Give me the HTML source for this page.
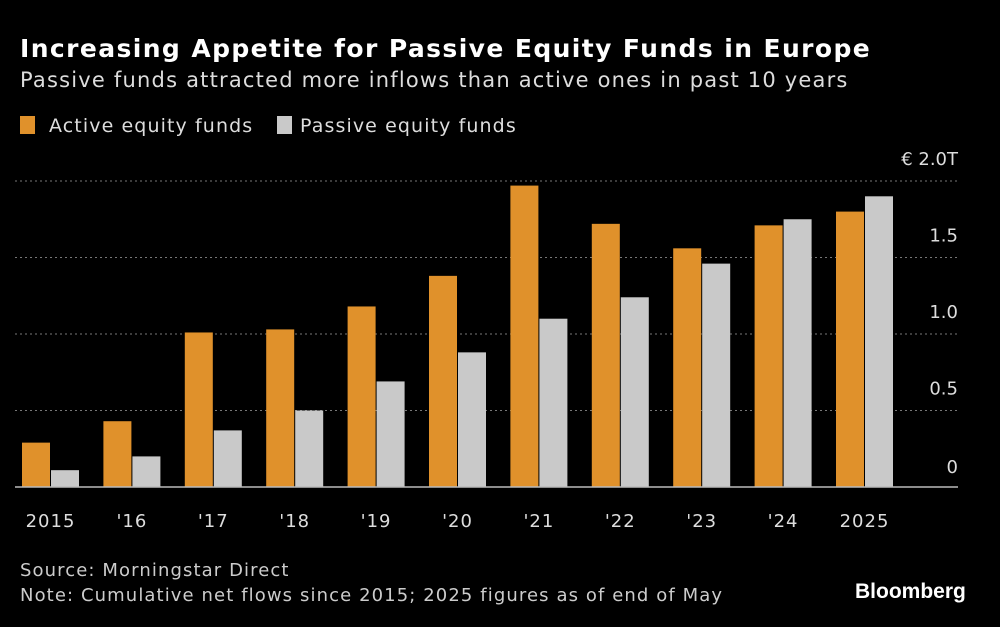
<!DOCTYPE html>
<html><head><meta charset="utf-8"><style>
body{margin:0;background:#000;width:1000px;height:627px;overflow:hidden;font-family:"DejaVu Sans","Liberation Sans",sans-serif;color:#fff}
.t{position:absolute;white-space:nowrap}
</style></head><body>
<div class="t" style="left:20px;top:34px;font-size:25px;font-weight:bold;letter-spacing:1.4px">Increasing Appetite for Passive Equity Funds in Europe</div>
<div class="t" style="left:20px;top:68px;font-size:21px;color:#ddd;letter-spacing:1.2px">Passive funds attracted more inflows than active ones in past 10 years</div>
<div class="t" style="left:20px;top:115px;font-size:19px;color:#ddd;letter-spacing:1.1px"><span style="display:inline-block;width:15px;height:18px;background:#e0912b;vertical-align:-2px;margin-right:14px"></span>Active equity funds</div>
<div class="t" style="left:277px;top:115px;font-size:19px;color:#ddd;letter-spacing:1.1px"><span style="display:inline-block;width:15px;height:18px;background:#c9c9c9;vertical-align:-2px;margin-right:8px"></span>Passive equity funds</div>
<svg id="chart" width="1000" height="627" style="position:absolute;left:0;top:0"></svg>
<div class="t" style="left:20px;top:560px;font-size:18px;color:#ccc;letter-spacing:1.1px">Source: Morningstar Direct</div>
<div class="t" style="left:20px;top:585px;font-size:18px;color:#ccc;letter-spacing:1.1px">Note: Cumulative net flows since 2015; 2025 figures as of end of May</div>
<div class="t" style="left:855px;top:580px;font-family:'Liberation Sans',sans-serif;font-size:21px;font-weight:bold">Bloomberg</div>
<script>
const categories=["2015","'16","'17","'18","'19","'20","'21","'22","'23","'24","2025"];
const activeValues=[0.29,0.43,1.01,1.03,1.18,1.38,1.97,1.72,1.56,1.71,1.80];
const passiveValues=[0.11,0.20,0.37,0.50,0.69,0.88,1.10,1.24,1.46,1.75,1.90];
const tickValues=[0,0.5,1.0,1.5,2.0];
const tickLabels=["0","0.5","1.0","1.5","€ 2.0T"];
const NS="http://www.w3.org/2000/svg";
const svg=document.getElementById('chart');
const y0=487,pxPerUnit=153;
const y=v=>y0-v*pxPerUnit;
const gx=i=>22+i*81.4;
function mk(tag,a){const e=document.createElementNS(NS,tag);for(const k in a)e.setAttribute(k,a[k]);svg.appendChild(e);return e;}
tickValues.forEach((v,i)=>{
 if(v>0){const l=mk('line',{x1:15,x2:958,y1:y(v),y2:y(v),stroke:'#777','stroke-dasharray':'2,3'});
 
 }
 const t=mk('text',{x:958,y:v===0?y(v)-14:y(v)-16,'text-anchor':'end',fill:'#ddd','font-size':18});
 t.textContent=tickLabels[i];
 
 
});
categories.forEach((c,i)=>{
 const a=mk('rect',{x:gx(i),y:y(activeValues[i]),width:28,height:activeValues[i]*pxPerUnit,fill:'#e0912b'});
 
 
 const p=mk('rect',{x:gx(i)+29,y:y(passiveValues[i]),width:28,height:passiveValues[i]*pxPerUnit,fill:'#c9c9c9'});
 
 
 const t=mk('text',{x:gx(i)+28.5,y:527,'text-anchor':'middle',fill:'#ddd','font-size':18,'letter-spacing':1});
 t.textContent=c;
 
 
});
const base=mk('line',{x1:15,x2:958,y1:y0,y2:y0,stroke:'#bbb','stroke-width':1.5});


</script>
</body></html>
